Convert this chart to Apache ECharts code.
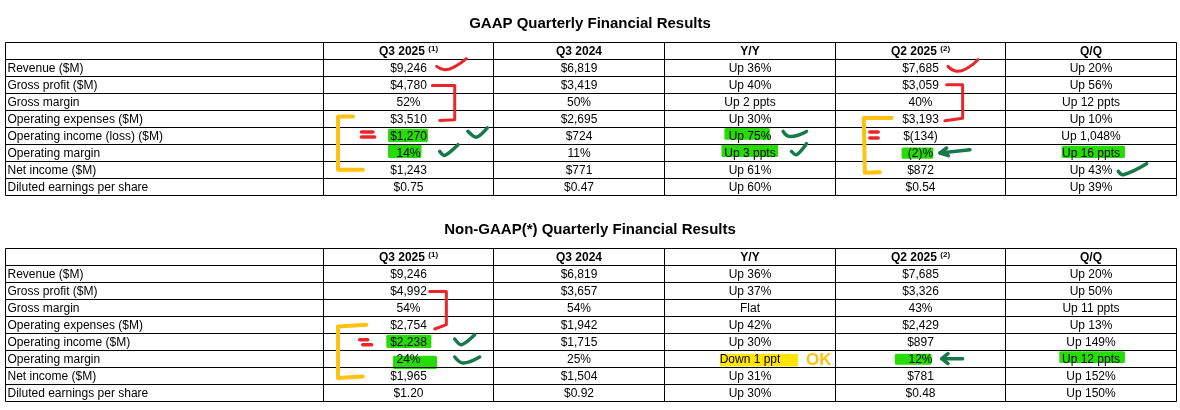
<!DOCTYPE html>
<html>
<head>
<meta charset="utf-8">
<title>Quarterly Financial Results</title>
<script src="https://cdn.jsdelivr.net/npm/echarts@6/dist/echarts.min.js"></script>
<style>
    html, body { margin: 0; background: #fff; }
    #chart { width: 1180px; height: 410px; }
</style>
</head>
<body>
<div id="chart"></div>
<script>
// ---- Table data ----
const colHeaders = ['Q3 2025', 'Q3 2024', 'Y/Y', 'Q2 2025', 'Q/Q'];
const colNotes = ['(1)', '', '', '(2)', ''];

const gaapRows = ['Revenue ($M)', 'Gross profit ($M)', 'Gross margin', 'Operating expenses ($M)',
    'Operating income (loss) ($M)', 'Operating margin', 'Net income ($M)', 'Diluted earnings per share'];
const gaapQ3_2025 = ['$9,246', '$4,780', '52%', '$3,510', '$1,270', '14%', '$1,243', '$0.75'];
const gaapQ3_2024 = ['$6,819', '$3,419', '50%', '$2,695', '$724', '11%', '$771', '$0.47'];
const gaapYoY = ['Up 36%', 'Up 40%', 'Up 2 ppts', 'Up 30%', 'Up 75%', 'Up 3 ppts', 'Up 61%', 'Up 60%'];
const gaapQ2_2025 = ['$7,685', '$3,059', '40%', '$3,193', '$(134)', '(2)%', '$872', '$0.54'];
const gaapQoQ = ['Up 20%', 'Up 56%', 'Up 12 ppts', 'Up 10%', 'Up 1,048%', 'Up 16 ppts', 'Up 43%', 'Up 39%'];

const nonGaapRows = ['Revenue ($M)', 'Gross profit ($M)', 'Gross margin', 'Operating expenses ($M)',
    'Operating income ($M)', 'Operating margin', 'Net income ($M)', 'Diluted earnings per share'];
const nonGaapQ3_2025 = ['$9,246', '$4,992', '54%', '$2,754', '$2,238', '24%', '$1,965', '$1.20'];
const nonGaapQ3_2024 = ['$6,819', '$3,657', '54%', '$1,942', '$1,715', '25%', '$1,504', '$0.92'];
const nonGaapYoY = ['Up 36%', 'Up 37%', 'Flat', 'Up 42%', 'Up 30%', 'Down 1 ppt', 'Up 31%', 'Up 30%'];
const nonGaapQ2_2025 = ['$7,685', '$3,326', '43%', '$2,429', '$897', '12%', '$781', '$0.48'];
const nonGaapQoQ = ['Up 20%', 'Up 50%', 'Up 11 ppts', 'Up 13%', 'Up 149%', 'Up 12 ppts', 'Up 152%', 'Up 150%'];

const tableTitles = ['GAAP Quarterly Financial Results', 'Non-GAAP(*) Quarterly Financial Results'];

// ---- Layout (axis units: x = column widths, y = rows incl. header) ----
const colWidths = [1.861, 1, 1, 1, 1, 1];
const colEdges = colWidths.reduce((acc, w) => { acc.push(acc[acc.length - 1] + w); return acc; }, [0]);
const TOTAL_W = colEdges[colEdges.length - 1];
const ROWS = 9;
const FONT = '"Liberation Sans", Arial, sans-serif';

const colors = {
    red: '#e8262b',
    yellow: '#ffc20e',
    dgreen: '#17794a',
    green: '#27dc06',
    yellowHl: '#ffe600'
};

// Hand drawn marks on top of the tables, in table axis units
const highlights = [
    { t: 0, c: 'green', r: [2.244, 2.478, 5.10, 5.88] },
    { t: 0, c: 'green', r: [2.244, 2.440, 6.04, 6.82] },
    { t: 0, c: 'green', r: [4.215, 4.481, 5.06, 5.75] },
    { t: 0, c: 'green', r: [4.198, 4.530, 6.04, 6.77] },
    { t: 0, c: 'green', r: [5.253, 5.439, 6.20, 6.87] },
    { t: 0, c: 'green', r: [6.191, 6.562, 6.10, 6.82] },
    { t: 1, c: 'green', r: [2.234, 2.498, 5.10, 5.88] },
    { t: 1, c: 'green', r: [2.273, 2.531, 6.34, 7.12] },
    { t: 1, c: 'yellowHl', r: [4.188, 4.647, 6.22, 6.97] },
    { t: 1, c: 'green', r: [5.214, 5.429, 6.22, 6.87] },
    { t: 1, c: 'green', r: [6.177, 6.562, 6.08, 6.77] }
];

const strokes = [
    // GAAP
    { t: 0, c: 'red', w: 3, smooth: 0.5, pts: [[2.529, 1.435], [2.576, 1.629], [2.635, 1.453], [2.703, 0.982]] },
    { t: 0, c: 'red', w: 3, pts: [[2.504, 2.553], [2.635, 2.553], [2.635, 4.571], [2.547, 4.612]] },
    { t: 0, c: 'yellow', w: 4, pts: [[2.039, 4.376], [1.951, 4.376], [1.951, 7.512], [2.097, 7.512]] },
    { t: 0, c: 'red', w: 3.5, pts: [[2.088, 5.294], [2.156, 5.294]] },
    { t: 0, c: 'red', w: 3.5, pts: [[2.088, 5.588], [2.166, 5.588]] },
    { t: 0, c: 'dgreen', w: 3.5, smooth: 0.3, pts: [[2.712, 5.250], [2.762, 5.600], [2.826, 5.050]] },
    { t: 0, c: 'dgreen', w: 3.5, smooth: 0.3, pts: [[2.547, 6.435], [2.576, 6.671], [2.654, 6.041]] },
    { t: 0, c: 'dgreen', w: 3.5, smooth: 0.5, pts: [[4.559, 5.259], [4.599, 5.553], [4.696, 5.259]] },
    { t: 0, c: 'dgreen', w: 3.5, smooth: 0.3, pts: [[4.608, 6.435], [4.638, 6.629], [4.696, 5.982]] },
    { t: 0, c: 'red', w: 3, smooth: 0.5, pts: [[5.525, 1.435], [5.577, 1.718], [5.642, 1.512], [5.700, 1.041]] },
    { t: 0, c: 'red', w: 3, pts: [[5.517, 2.512], [5.611, 2.512], [5.611, 4.482], [5.507, 4.629]] },
    { t: 0, c: 'yellow', w: 4, pts: [[5.195, 4.471], [5.032, 4.471], [5.038, 7.688], [5.126, 7.659]] },
    { t: 0, c: 'red', w: 3.5, pts: [[5.067, 5.294], [5.116, 5.294]] },
    { t: 0, c: 'red', w: 3.5, pts: [[5.067, 5.647], [5.116, 5.647]] },
    { t: 0, c: 'dgreen', w: 3.5, pts: [[5.654, 6.335], [5.478, 6.529]] },
    { t: 0, c: 'dgreen', w: 3.5, pts: [[5.517, 6.235], [5.478, 6.529], [5.527, 6.688]] },
    { t: 0, c: 'dgreen', w: 3.5, smooth: 0.4, pts: [[6.523, 7.612], [6.552, 7.806], [6.689, 7.159]] },
    // Non-GAAP
    { t: 1, c: 'red', w: 3, pts: [[2.488, 2.553], [2.586, 2.553], [2.586, 4.512], [2.518, 4.765]] },
    { t: 1, c: 'yellow', w: 4, pts: [[2.117, 4.512], [1.951, 4.612], [1.951, 7.647], [2.097, 7.553]] },
    { t: 1, c: 'red', w: 3.5, pts: [[2.078, 5.394], [2.125, 5.394]] },
    { t: 1, c: 'red', w: 3.5, pts: [[2.096, 5.688], [2.148, 5.688]] },
    { t: 1, c: 'dgreen', w: 3.5, smooth: 0.3, pts: [[2.635, 5.353], [2.674, 5.688], [2.752, 5.1]] },
    { t: 1, c: 'dgreen', w: 3.5, smooth: 0.4, pts: [[2.635, 6.412], [2.684, 6.765], [2.781, 6.412]] },
    { t: 1, c: 'dgreen', w: 3.5, pts: [[5.611, 6.512], [5.489, 6.512]] },
    { t: 1, c: 'dgreen', w: 3.5, pts: [[5.525, 6.218], [5.489, 6.512], [5.525, 6.806]] }
];

const notes = [
    { t: 1, c: 'yellow', text: 'OK', at: [4.768, 6.6] }
];

// ---- Build cells ----
function buildCells(rowLabels, columns) {
    const cells = [{ col: 0, row: 0, text: '' }];
    colHeaders.forEach((h, i) => {
        cells.push({ col: i + 1, row: 0, text: h, note: colNotes[i], header: true });
    });
    rowLabels.forEach((label, r) => {
        cells.push({ col: 0, row: r + 1, text: label });
        columns.forEach((values, c) => {
            cells.push({ col: c + 1, row: r + 1, text: values[r] });
        });
    });
    return cells;
}

const tables = [
    buildCells(gaapRows, [gaapQ3_2025, gaapQ3_2024, gaapYoY, gaapQ2_2025, gaapQoQ]),
    buildCells(nonGaapRows, [nonGaapQ3_2025, nonGaapQ3_2024, nonGaapYoY, nonGaapQ2_2025, nonGaapQoQ])
];

const snap = v => Math.round(v) + 0.5;

function cellRenderer(cells) {
    return function (params, api) {
        const cell = cells[params.dataIndex];
        const p0 = api.coord([colEdges[cell.col], cell.row]);
        const p1 = api.coord([colEdges[cell.col + 1], cell.row + 1]);
        const x0 = snap(p0[0]), y0 = snap(p0[1]), x1 = snap(p1[0]), y1 = snap(p1[1]);
        const children = [{
            type: 'rect',
            shape: { x: x0, y: y0, width: x1 - x0, height: y1 - y0 },
            style: { fill: null, stroke: '#000', lineWidth: 1 }
        }];
        const cy = (y0 + y1) / 2 + 0.5;
        if (cell.header) {
            const txt = cell.note ? '{h|' + cell.text + '} {s|' + cell.note + '}' : '{h|' + cell.text + '}';
            children.push({
                type: 'text',
                style: {
                    text: txt, x: (x0 + x1) / 2, y: cy, align: 'center', verticalAlign: 'middle',
                    rich: {
                        h: { fontFamily: FONT, fontSize: 12, fontWeight: 'bold', color: '#000', lineHeight: 14 },
                        s: { fontFamily: FONT, fontSize: 8, fontWeight: 'bold', color: '#000', lineHeight: 14, verticalAlign: 'top' }
                    }
                }
            });
        } else if (cell.text) {
            const left = cell.col === 0;
            children.push({
                type: 'text',
                style: {
                    text: cell.text, x: left ? x0 + 2 : (x0 + x1) / 2, y: cy,
                    align: left ? 'left' : 'center', verticalAlign: 'middle',
                    font: '12px ' + FONT, fill: '#000'
                }
            });
        }
        return { type: 'group', children: children };
    };
}

function highlightRenderer(list) {
    return function (params, api) {
        const h = list[params.dataIndex];
        const p0 = api.coord([h.r[0], h.r[2]]);
        const p1 = api.coord([h.r[1], h.r[3]]);
        return {
            type: 'rect',
            shape: { x: p0[0], y: p0[1], width: p1[0] - p0[0], height: p1[1] - p0[1], r: 1.5 },
            style: { fill: colors[h.c] }
        };
    };
}

function strokeRenderer(list, noteList) {
    return function (params, api) {
        if (params.dataIndex >= list.length) {
            const n = noteList[params.dataIndex - list.length];
            const p = api.coord(n.at);
            return {
                type: 'text',
                style: {
                    text: n.text, x: p[0], y: p[1], align: 'center', verticalAlign: 'middle',
                    font: 'bold 17px ' + FONT, fill: colors[n.c]
                }
            };
        }
        const s = list[params.dataIndex];
        return {
            type: 'polyline',
            shape: { points: s.pts.map(pt => api.coord(pt)), smooth: s.smooth || 0 },
            style: { stroke: colors[s.c], lineWidth: s.w, fill: null, lineCap: 'round', lineJoin: 'round' }
        };
    };
}

// ---- Chart ----
const chart = echarts.init(document.getElementById('chart'));

const grids = [
    { left: 5, width: 1171, top: 42, height: 153 },
    { left: 5, width: 1171, top: 248, height: 153 }
];

const series = [];
tables.forEach((cells, t) => {
    const hl = highlights.filter(h => h.t === t);
    const st = strokes.filter(s => s.t === t);
    const nt = notes.filter(n => n.t === t);
    series.push({
        type: 'custom', xAxisIndex: t, yAxisIndex: t, z: 1, silent: true,
        renderItem: highlightRenderer(hl),
        data: hl.map(h => [h.r[0], h.r[2]])
    });
    series.push({
        type: 'custom', xAxisIndex: t, yAxisIndex: t, z: 2, silent: true,
        renderItem: cellRenderer(cells),
        data: cells.map(c => [colEdges[c.col], c.row])
    });
    series.push({
        type: 'custom', xAxisIndex: t, yAxisIndex: t, z: 3, silent: true,
        renderItem: strokeRenderer(st, nt),
        data: st.map(s => s.pts[0]).concat(nt.map(n => n.at))
    });
});

chart.setOption({
    animation: false,
    backgroundColor: '#fff',
    title: tableTitles.map((text, i) => ({
        text: text,
        left: 'center',
        top: i === 0 ? 11 : 217,
        textStyle: { fontFamily: FONT, fontSize: 15, fontWeight: 'bold', color: '#000' }
    })),
    grid: grids,
    xAxis: grids.map((g, i) => ({ gridIndex: i, type: 'value', min: 0, max: TOTAL_W, show: false })),
    yAxis: grids.map((g, i) => ({ gridIndex: i, type: 'value', min: 0, max: ROWS, inverse: true, show: false })),
    tooltip: { show: false },
    series: series
});

window.addEventListener('resize', () => chart.resize());
</script>
</body>
</html>
